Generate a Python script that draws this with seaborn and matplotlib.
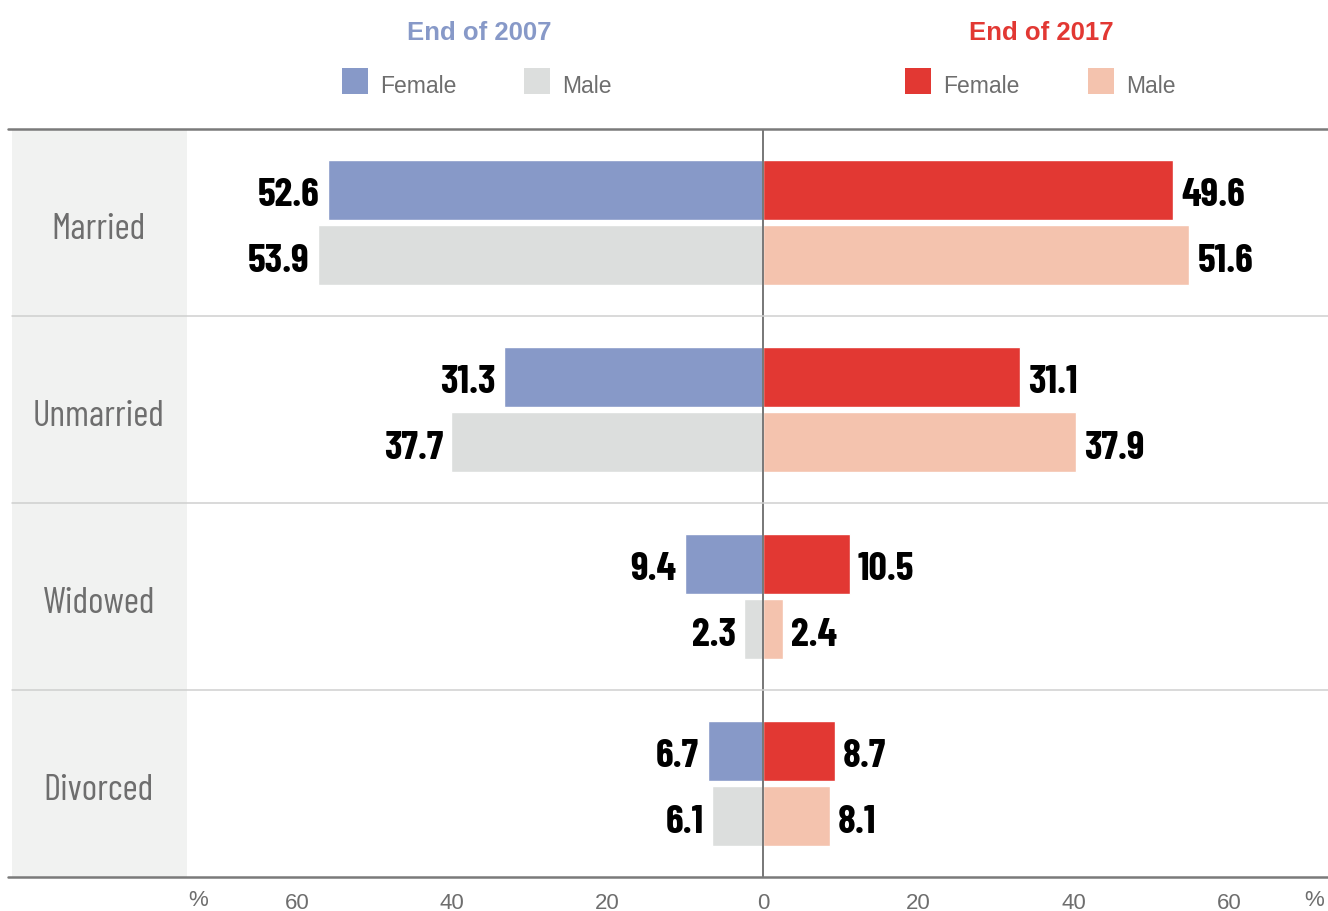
import pandas as pd
import numpy as np
import matplotlib.pyplot as plt
import seaborn as sns
from matplotlib.lines import Line2D
from matplotlib.patches import Rectangle

# --- data ---
statuses = ['Married', 'Unmarried', 'Widowed', 'Divorced']
sexes = ['Female', 'Male']
female_2007 = [52.6, 31.3, 9.4, 6.7]
male_2007 = [53.9, 37.7, 2.3, 6.1]
female_2017 = [49.6, 31.1, 10.5, 8.7]
male_2017 = [51.6, 37.9, 2.4, 8.1]
tick_values = [60, 40, 20, 0, 20, 40, 60]

# the source axis is drawn a little off the bars (ticks sit at ~0.94 of value)
TICK_SCALE = 0.9402

colors_2007 = ['#8799C8', '#DCDEDD']
colors_2017 = ['#E23833', '#F4C3AE']
GRAY_TXT = '#6E6E6E'
COND = ['Barlow Condensed', 'Roboto Condensed', 'DejaVu Sans']

df07 = pd.DataFrame({
    'status': statuses * 2,
    'sex': ['Female'] * 4 + ['Male'] * 4,
    'value': female_2007 + male_2007,
})
df17 = pd.DataFrame({
    'status': statuses * 2,
    'sex': ['Female'] * 4 + ['Male'] * 4,
    'value': female_2017 + male_2017,
})
df07['plot_value'] = -df07['value']

sns.set_theme(style='white')
plt.rcParams['font.family'] = ['Liberation Sans', 'DejaVu Sans']

W, H = 1328, 912
fig = plt.figure(figsize=(W / 100, H / 100), dpi=100)


def fx(px):
    return px / W


def fy(py):
    return 1 - py / H


ax = fig.add_axes([fx(187), fy(878), fx(1328) - fx(187), fy(130) - fy(878)])

# gray panel behind the category labels
fig.add_artist(Rectangle((fx(12), fy(878)), fx(187) - fx(12), fy(130) - fy(878),
                         transform=fig.transFigure, facecolor='#F1F2F1',
                         edgecolor='none', zorder=0))

sns.barplot(data=df07, x='plot_value', y='status', hue='sex', order=statuses,
            hue_order=sexes, palette=colors_2007, orient='h', width=0.704,
            gap=0.09, ax=ax, legend=False, saturation=1, errorbar=None)
sns.barplot(data=df17, x='value', y='status', hue='sex', order=statuses,
            hue_order=sexes, palette=colors_2017, orient='h', width=0.704,
            gap=0.09, ax=ax, legend=False, saturation=1, errorbar=None)

# value labels at the outer end of each bar
label_sets = [female_2007, male_2007, female_2017, male_2017]
for cont, vals in zip(ax.containers, label_sets):
    for rect, v in zip(cont.patches, vals):
        x_end = rect.get_x() + rect.get_width()
        if rect.get_width() < 0:
            off, ha = -6, 'right'
        else:
            off, ha = 6, 'left'
        yc = rect.get_y() + rect.get_height() / 2
        ax.annotate(f'{v:.1f}', (x_end, yc), xytext=(off, -1),
                    textcoords='offset points', ha=ha, va='center_baseline',
                    fontsize=29, fontweight='bold', color='black',
                    fontfamily=COND)

ax.set_xlim(-69.7, 68.4)
ax.set_ylim(3.5, -0.5)
ax.axvline(0, color='#777777', lw=1.4, zorder=5)
ax.set_facecolor('none')
for s in ax.spines.values():
    s.set_visible(False)
ax.set_ylabel('')
ax.set_xlabel('')
ax.set_yticks([])
tick_pos = [-t * TICK_SCALE for t in tick_values[:3]] + [0] + \
           [t * TICK_SCALE for t in tick_values[4:]]
ax.set_xticks(tick_pos)
ax.set_xticklabels([str(t) for t in tick_values], fontsize=16, color=GRAY_TXT)
ax.tick_params(axis='x', length=0, pad=11)

for xp in (198, 1314):
    fig.text(fx(xp), fy(901), '%', fontsize=16, color=GRAY_TXT,
             ha='center', va='center')

# category labels on the gray panel
for i, s in enumerate(statuses):
    fig.text(fx(99), fy(130 + 187 * i + 93.5 + 3), s, fontsize=26.5, color=GRAY_TXT,
             ha='center', va='center_baseline', fontfamily=COND)

# rules
for yp in (317, 504, 691):
    fig.add_artist(Line2D([fx(12), 1], [fy(yp), fy(yp)], color='#CFCFCF', lw=1.1))
for yp in (130, 878):
    fig.add_artist(Line2D([fx(8), 1], [fy(yp), fy(yp)], color='#7A7A7A', lw=1.8))

# headings and legends
fig.text(fx(479), fy(31), 'End of 2007', fontsize=18.5, fontweight='bold',
         color=colors_2007[0], ha='center', va='center_baseline')
fig.text(fx(1041), fy(31), 'End of 2017', fontsize=18.5, fontweight='bold',
         color=colors_2017[0], ha='center', va='center_baseline')

legend_items = [
    (342, colors_2007[0], 'Female'), (524, colors_2007[1], 'Male'),
    (905, colors_2017[0], 'Female'), (1088, colors_2017[1], 'Male'),
]
for xp, c, txt in legend_items:
    fig.add_artist(Rectangle((fx(xp), fy(95)), fx(26), 26 / H,
                             transform=fig.transFigure, facecolor=c, edgecolor='none'))
    fig.text(fx(xp + 38), fy(84), txt, fontsize=16.5, color=GRAY_TXT,
             ha='left', va='center_baseline')

fig.savefig('out.png', dpi=100)
